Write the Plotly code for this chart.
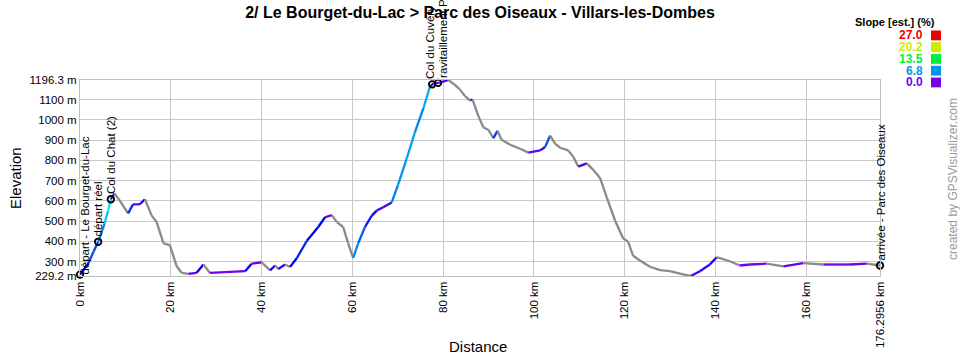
import colorsys
import plotly.graph_objects as go

# ---------------- data ----------------
dist_km = [0, 1.8, 3.0, 4.0, 5.4, 6.2, 6.8, 7.6, 8.8, 10.6, 11.7, 13.2, 14.3, 15.8, 16.9,
           18.4, 19.8, 21.3, 22.4, 23.9, 25.7, 27.2, 28.6, 32, 36.4, 37.8, 40, 41.9, 43,
           43.7, 45.2, 46.3, 47.8, 50, 52.5, 54, 55.5, 56.6, 58, 59.1, 60.2, 61.3, 62.8,
           64.3, 65.4, 66.8, 68.7, 70.1, 72, 73.8, 75.7, 77.1, 77.9, 79.3, 81.2, 82.6,
           83.7, 84.8, 86.0, 86.5, 87.8, 88.9, 90, 91.1, 92, 92.9, 94.8, 97, 98.8, 101.4,
           102.5, 103.6, 104.7, 105.8, 107.6, 108.7, 109.8, 111.7, 113.1, 114.6, 116.1,
           117.9, 119.7, 120.8, 121.9, 123.4, 125.6, 127.8, 130, 132.9, 134.6, 136.6,
           138.8, 140.3, 143.2, 145.4, 147.6, 151.3, 155, 159.4, 163.8, 169.7, 173.4,
           176.2956]
elev_m = [236, 290, 350, 398, 487, 552, 608, 637, 600, 538, 583, 583, 608, 527, 495,
          390, 382, 277, 245, 240, 245, 286, 245, 248, 253, 290, 297, 257, 281,
          264, 286, 274, 318, 403, 471, 519, 530, 495, 471, 390, 318, 390, 471,
          527, 552, 568, 592, 680, 809, 938, 1059, 1163, 1180, 1183, 1196.3, 1172,
          1150, 1118, 1095, 1100, 1018, 962, 951, 909, 946, 902, 877, 857, 838, 849,
          866, 922, 882, 862, 849, 817, 769, 785, 753, 713, 616,
          503, 414, 398, 329, 306, 275, 258, 253, 237, 229.2, 253,
          286, 322, 302, 281, 286, 290, 277, 293, 286, 286, 290,
          281]

wp_km = [0, 4.0, 6.8, 77.6, 78.9, 176.2956]
wp_elev = [236, 398, 608, 1175, 1182, 281]
wp_names = ["départ - Le Bourget-du-Lac", "départ réel", "Col du Chat (2)",
            "Col du Cuvéry", "ravitaillement Plateau de Retord", "arrivée - Parc des Oiseaux"]

y_tickvals = [229.2, 300, 400, 500, 600, 700, 800, 900, 1000, 1100, 1196.3]
y_ticktext = ["229.2 m", "300 m", "400 m", "500 m", "600 m", "700 m", "800 m",
              "900 m", "1000 m", "1100 m", "1196.3 m"]
x_tickvals = [0, 20, 40, 60, 80, 100, 120, 140, 160, 176.2956]
x_ticktext = ["0 km", "20 km", "40 km", "60 km", "80 km", "100 km", "120 km",
              "140 km", "160 km", "176.2956 km"]

legend_vals = ["27.0", "20.2", "13.5", "6.8", "0.0"]
legend_slopes = [27.0, 20.2, 13.5, 6.8, 0.0]

FONT = "Liberation Sans, Arial, sans-serif"
GRAY = "#8a8a8a"


def slope_color(s):
    if s < 0:
        return GRAY
    s = min(s, 27.0)
    hue = (270 - 10 * s) / 360.0
    r, g, b = colorsys.hsv_to_rgb(hue, 1.0, 0.93)
    return "rgb(%d,%d,%d)" % (r * 255, g * 255, b * 255)


fig = go.Figure()

# slope-coloured profile, one segment per pair of points
for i in range(len(dist_km) - 1):
    dk = dist_km[i + 1] - dist_km[i]
    s = (elev_m[i + 1] - elev_m[i]) / (dk * 1000.0) * 100.0
    fig.add_trace(go.Scatter(
        x=[dist_km[i], dist_km[i + 1]], y=[elev_m[i], elev_m[i + 1]],
        mode="lines", line=dict(color=slope_color(s), width=2.3),
        hoverinfo="skip", showlegend=False))

# waypoints
fig.add_trace(go.Scatter(
    x=wp_km, y=wp_elev, mode="markers",
    marker=dict(symbol="circle-open", size=6.5, color="black", line=dict(width=1.8)),
    text=wp_names, hoverinfo="text", showlegend=False, cliponaxis=False))

annotations = []
shifts = [5, 0, 0, -2, 5, 0]
yshifts = [-2, 3, 3, 3, 3, 3]
for k, e, n, sh, ys in zip(wp_km, wp_elev, wp_names, shifts, yshifts):
    annotations.append(dict(
        x=k, y=e, xref="x", yref="y", text=n, textangle=-90, showarrow=False,
        xanchor="center", yanchor="bottom", yshift=ys, xshift=sh,
        font=dict(family=FONT, size=11.5, color="black")))


def px(xp):
    return (xp - 80) / 800.0


def py(yp):
    return (280 - yp) / 200.0


# axis titles
annotations.append(dict(x=px(15), y=py(180), xref="paper", yref="paper", text="Elevation",
                        textangle=-90, showarrow=False, xanchor="center", yanchor="middle",
                        font=dict(family=FONT, size=15, color="black")))
annotations.append(dict(x=px(478), y=py(352), xref="paper", yref="paper", text="Distance",
                        showarrow=False, xanchor="center", yanchor="middle",
                        font=dict(family=FONT, size=15, color="black")))
# watermark
annotations.append(dict(x=px(953), y=py(181), xref="paper", yref="paper",
                        text="created by GPSVisualizer.com", textangle=-90, showarrow=False,
                        xanchor="center", yanchor="middle",
                        font=dict(family=FONT, size=12, color="#999999")))
# slope legend
annotations.append(dict(x=px(937), y=py(21), xref="paper", yref="paper",
                        text="<b>Slope [est.] (%)</b>", showarrow=False,
                        xanchor="right", yanchor="middle",
                        font=dict(family=FONT, size=11, color="black")))
shapes = []
for j, (lab, sv) in enumerate(zip(legend_vals, legend_slopes)):
    yc = 34.5 + j * 12
    col = slope_color(sv)
    annotations.append(dict(x=px(925), y=py(yc), xref="paper", yref="paper",
                            text="<b>%s</b>" % lab, showarrow=False,
                            xanchor="right", yanchor="middle",
                            font=dict(family=FONT, size=12, color=col)))
    shapes.append(dict(type="rect", xref="paper", yref="paper",
                       x0=px(931), x1=px(941), y0=py(yc - 5), y1=py(yc + 5),
                       fillcolor=col, line=dict(width=0)))

fig.update_layout(
    width=960, height=360,
    margin=dict(l=80, r=80, t=80, b=80),
    paper_bgcolor="white", plot_bgcolor="white",
    title=dict(text="<b>2/ Le Bourget-du-Lac > Parc des Oiseaux - Villars-les-Dombes</b>",
               x=0.5, xanchor="center", y=1 - 12 / 360.0, yanchor="middle",
               font=dict(family=FONT, size=16, color="black")),
    xaxis=dict(range=[0, 176.2956], tickvals=x_tickvals, ticktext=x_ticktext,
               tickangle=-90, showgrid=True, gridcolor="#c8c8c8", gridwidth=1,
               showline=True, linecolor="#c0c0c0", mirror=True, zeroline=False,
               ticks="", tickfont=dict(family=FONT, size=11.5, color="black")),
    yaxis=dict(range=[229.2, 1196.3], tickvals=y_tickvals, ticktext=y_ticktext,
               showgrid=True, gridcolor="#c8c8c8", gridwidth=1,
               showline=True, linecolor="#c0c0c0", mirror=True, zeroline=False,
               ticks="", tickfont=dict(family=FONT, size=11.5, color="black")),
    annotations=annotations, shapes=shapes,
    showlegend=False,
)

fig.write_html("out.html", config={"displayModeBar": False},
               post_script="document.body.style.margin='0';document.body.style.padding='0';")
